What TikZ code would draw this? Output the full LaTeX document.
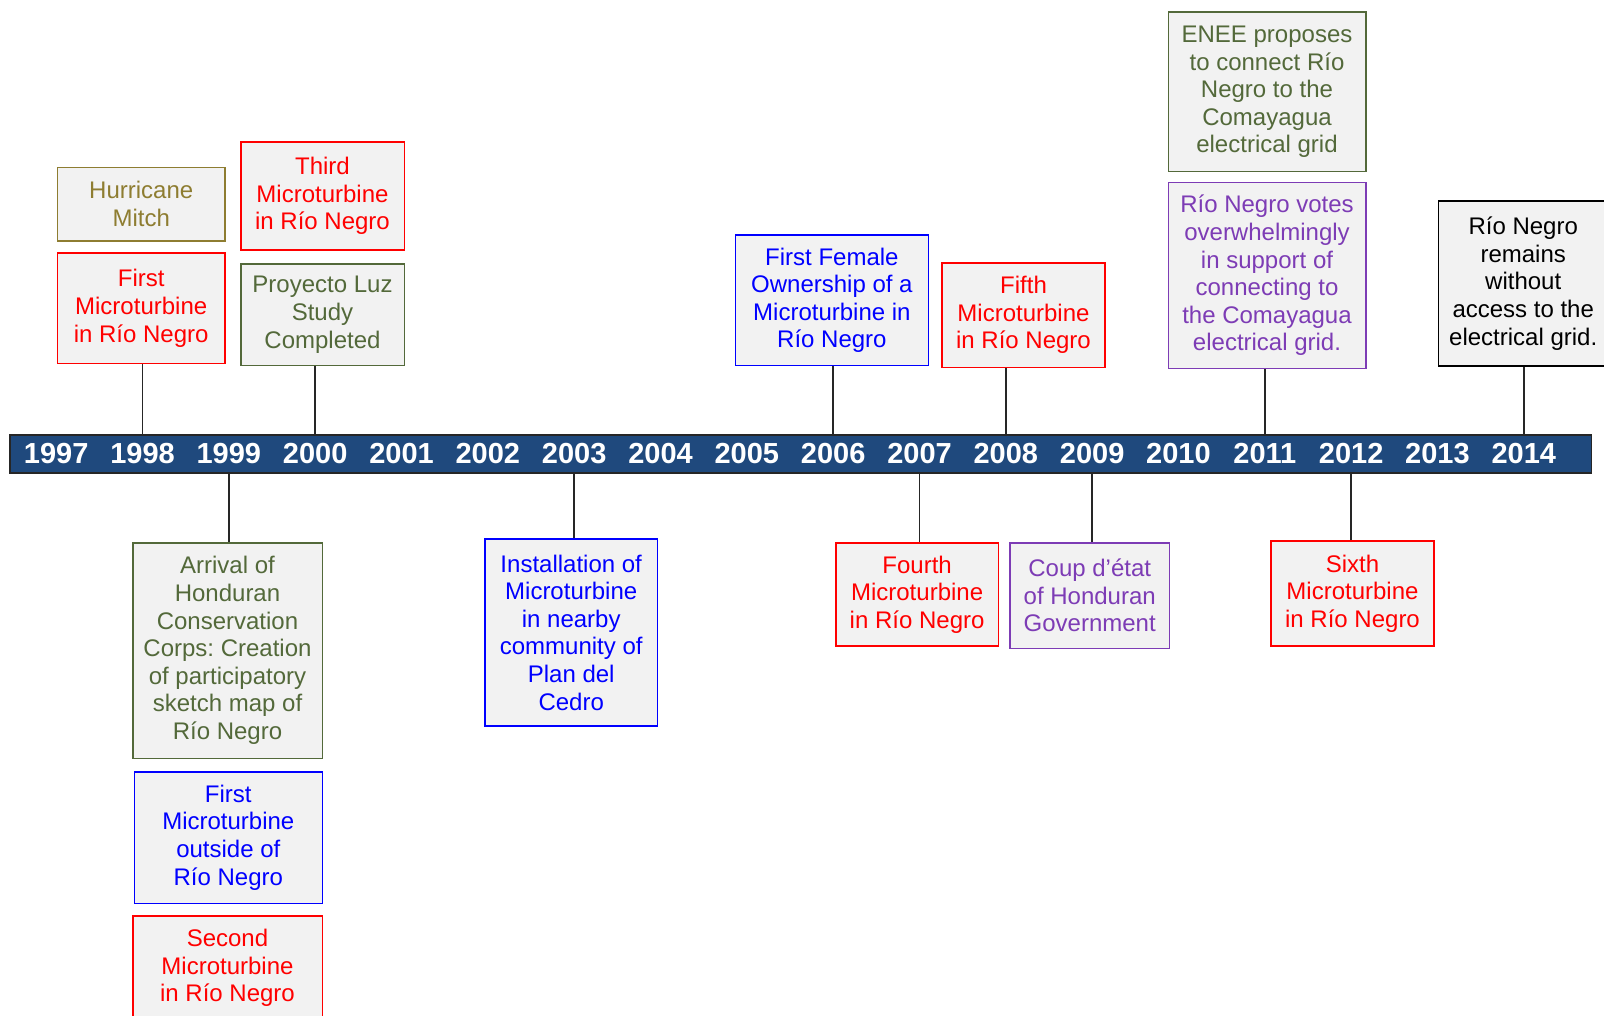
\documentclass[tikz,border=0pt]{standalone}
\usepackage{fontspec}
\setmainfont{Liberation Sans}
\frenchspacing
\definecolor{cred}{HTML}{FF0000}
\definecolor{cblue}{HTML}{0000FF}
\definecolor{cgreen}{HTML}{53693A}
\definecolor{colive}{HTML}{8E7D31}
\definecolor{cpurple}{HTML}{7D3CB5}
\definecolor{cblack}{HTML}{000000}
\definecolor{cbar}{HTML}{1F497D}
\definecolor{cfill}{HTML}{F2F2F2}
\tikzset{
  ev/.style={draw=#1, text=#1, fill=cfill, line width=1.6pt, inner sep=0pt,
    align=center, font=\fontsize{24}{27.6}\selectfont},
  yearlbl/.style={text=white, font=\bfseries\fontsize{29}{30}\selectfont, inner sep=0pt},
  barbox/.style={fill=cbar, draw=black!85, line width=1.5pt, inner sep=0pt},
  conn/.style={draw=black!85, line width=1.6pt},
}
\begin{document}
\begin{tikzpicture}[x=1pt,y=-1pt]
\clip (0,0) rectangle (1604,1016);
\fill[white] (0,0) rectangle (1604,1016);

% timeline bar
\node[barbox, minimum width=1581.7pt, minimum height=38pt] (bar) at (800.85,454) {};
\foreach \yr [count=\i from 0] in {1997,...,2014}
  \node[yearlbl] (y\yr) at ({56.2+86.33*\i},454) {\yr};

% events above the bar
\node[ev=colive, minimum width=167.7pt, minimum height=73.7pt] (mitch) at (141.2,204.2) {Hurricane\\Mitch};
\node[ev=cred, minimum width=167.7pt, minimum height=110pt] (first98) at (141.2,308.3) {First\\Microturbine\\in Río Negro};
\node[ev=cred, minimum width=163.6pt, minimum height=108pt] (third) at (322.5,196) {Third\\Microturbine\\in Río Negro};
\node[ev=cgreen, minimum width=163.6pt, minimum height=101pt] (luz) at (322.5,314.8) {Proyecto Luz\\Study\\Completed};
\node[ev=cblue, minimum width=193pt, minimum height=130pt] (female) at (831.9,300.3) {First Female\\Ownership of a\\Microturbine in\\Río Negro};
\node[ev=cred, minimum width=162.6pt, minimum height=104.4pt] (fifth) at (1023.5,315.1) {Fifth\\Microturbine\\in Río Negro};
\node[ev=cgreen, minimum width=197.4pt, minimum height=159.4pt] (enee) at (1267,92) {ENEE proposes\\to connect Río\\Negro to the\\Comayagua\\electrical grid};
\node[ev=cpurple, minimum width=197.4pt, minimum height=185.6pt] (votes) at (1267,275.5) {Río Negro votes\\overwhelmingly\\in support of\\connecting to\\the Comayagua\\electrical grid.};
\node[ev=cblack, minimum width=169.7pt, minimum height=164.4pt] (remains) at (1523.2,283.5) {Río Negro\\remains\\without\\access to the\\electrical grid.};

% events below the bar
\node[ev=cgreen, minimum width=189.6pt, minimum height=215.6pt] (arrival) at (227.5,650.5) {Arrival of\\Honduran\\Conservation\\Corps: Creation\\of participatory\\sketch map of\\Río Negro};
\node[ev=cblue, minimum width=188pt, minimum height=131.6pt] (outside) at (228.3,837.5) {First\\Microturbine\\outside of\\Río Negro};
\node[ev=cred, minimum width=189.6pt, minimum height=104.3pt] (second) at (227.5,967.9) {Second\\Microturbine\\in Río Negro};
\node[ev=cblue, minimum width=172.3pt, minimum height=187pt] (install) at (571.2,632.5) {Installation of\\Microturbine\\in nearby\\community of\\Plan del\\Cedro};
\node[ev=cred, minimum width=162.7pt, minimum height=103.3pt] (fourth) at (917.1,594.4) {Fourth\\Microturbine\\in Río Negro};
\node[ev=cpurple, minimum width=159.3pt, minimum height=105.6pt] (coup) at (1089.7,595.5) {Coup d’état\\of Honduran\\Government};
\node[ev=cred, minimum width=163pt, minimum height=105pt] (sixth) at (1352.5,593.5) {Sixth\\Microturbine\\in Río Negro};

% connectors above
\draw[conn] (first98.south -| y1998) -- (y1998 |- bar.north);
\draw[conn] (luz.south -| y2000) -- (y2000 |- bar.north);
\draw[conn] (female.south -| y2006) -- (y2006 |- bar.north);
\draw[conn] (fifth.south -| y2008) -- (y2008 |- bar.north);
\draw[conn] (votes.south -| y2011) -- (y2011 |- bar.north);
\draw[conn] (remains.south -| y2014) -- (y2014 |- bar.north);
% connectors below
\draw[conn] (y1999 |- bar.south) -- (arrival.north -| y1999);
\draw[conn] (y2003 |- bar.south) -- (install.north -| y2003);
\draw[conn] (y2007 |- bar.south) -- (fourth.north -| y2007);
\draw[conn] (y2009 |- bar.south) -- (coup.north -| y2009);
\draw[conn] (y2012 |- bar.south) -- (sixth.north -| y2012);
\end{tikzpicture}
\end{document}
